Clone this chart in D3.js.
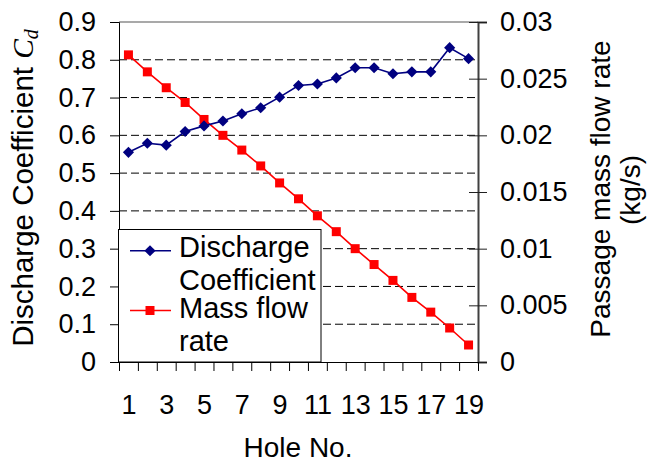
<!DOCTYPE html>
<html>
<head>
<meta charset="utf-8">
<script src="https://cdn.jsdelivr.net/npm/d3@7"></script>
<style>
  html, body { margin: 0; padding: 0; background: #fff; }
  svg { display: block; }
  text { font-family: "Liberation Sans", Arial, sans-serif; fill: #000; }
</style>
</head>
<body>
<svg id="chart" width="652" height="463"></svg>
<script>
// Hole numbers along the passage
const holes = [1,2,3,4,5,6,7,8,9,10,11,12,13,14,15,16,17,18,19];
// Discharge coefficient Cd per hole (left axis)
const dischargeCoef = [0.555,0.579,0.574,0.610,0.625,0.638,0.657,0.673,0.701,0.732,
                       0.736,0.752,0.779,0.779,0.763,0.768,0.768,0.832,0.803];
// Passage mass flow rate in kg/s per hole (right axis)
const massFlow = [0.0271,0.0256,0.0242,0.0229,0.0214,0.0200,0.0187,0.0173,0.0158,0.0144,
                  0.0129,0.0115,0.0100,0.0086,0.0072,0.0057,0.0044,0.0030,0.0015];
// Tick values
const leftTicks = [0,0.1,0.2,0.3,0.4,0.5,0.6,0.7,0.8,0.9];
const leftTickLabels = ["0","0.1","0.2","0.3","0.4","0.5","0.6","0.7","0.8","0.9"];
const rightTicks = [0,0.005,0.01,0.015,0.02,0.025,0.03];
const rightTickLabels = ["0","0.005","0.01","0.015","0.02","0.025","0.03"];
const xLabelHoles = [1,3,5,7,9,11,13,15,17,19];

const svg = d3.select("#chart");
const plot = { left: 119, right: 478, top: 22, bottom: 362 };
const FS = 27;

const x = d3.scaleLinear().domain([0.5, 19.5]).range([plot.left, plot.right]);
const yL = d3.scaleLinear().domain([0, 0.9]).range([plot.bottom, plot.top]);
const yR = d3.scaleLinear().domain([0, 0.03]).range([plot.bottom, plot.top]);

// Dashed horizontal gridlines
svg.append("g").selectAll("line")
  .data(leftTicks.filter(v => v > 0 && v < 0.9))
  .join("line")
  .attr("x1", plot.left).attr("x2", plot.right)
  .attr("y1", d => yL(d)).attr("y2", d => yL(d))
  .attr("stroke", "#000").attr("stroke-width", 1)
  .attr("stroke-dasharray", "8,4");

// Top border of the plot area
svg.append("line")
  .attr("x1", plot.left).attr("x2", plot.right)
  .attr("y1", yL(0.9)).attr("y2", yL(0.9))
  .attr("stroke", "#8c8c8c").attr("stroke-width", 1.5);

// Left axis
const gL = svg.append("g").attr("transform", `translate(${plot.left},0)`)
  .call(d3.axisLeft(yL).tickValues(leftTicks).tickSize(9).tickPadding(14)
    .tickFormat((d, i) => leftTickLabels[i]));
gL.select(".domain").attr("stroke", "#000");
gL.selectAll(".tick line").attr("stroke", "#000");
gL.selectAll(".tick text").attr("font-size", FS).attr("font-family", null);

// Right axis (ticks cross the axis line)
const gR = svg.append("g").attr("transform", `translate(${plot.right},0)`)
  .call(d3.axisRight(yR).tickValues(rightTicks).tickSize(9).tickPadding(13)
    .tickFormat((d, i) => rightTickLabels[i]));
gR.select(".domain").attr("stroke", "#404040").attr("stroke-width", 2);
gR.selectAll(".tick line").attr("x1", -9).attr("stroke", "#202020");
gR.selectAll(".tick text").attr("font-size", FS).attr("font-family", null);

// Bottom axis: ticks between categories
const gB = svg.append("g").attr("transform", `translate(0,${plot.bottom})`)
  .call(d3.axisBottom(x).tickValues(d3.range(0.5, 20, 1)).tickSize(9).tickFormat(""));
gB.select(".domain").attr("stroke", "#000");
gB.selectAll(".tick line").attr("stroke", "#000");

// Category labels on odd holes
const gBL = svg.append("g").attr("transform", `translate(0,${plot.bottom})`)
  .call(d3.axisBottom(x).tickValues(xLabelHoles).tickSize(0).tickPadding(33)
    .tickFormat(d3.format("d")));
gBL.select(".domain").remove();
gBL.selectAll(".tick text").attr("font-size", FS).attr("font-family", null);

// Mass flow rate series
const red = "#ff0000", navy = "#000080";
svg.append("path")
  .datum(holes.map((h, i) => [h, massFlow[i]]))
  .attr("fill", "none").attr("stroke", red).attr("stroke-width", 1.6)
  .attr("d", d3.line().x(d => x(d[0])).y(d => yR(d[1])));
svg.append("g").selectAll("path")
  .data(holes.map((h, i) => [h, massFlow[i]]))
  .join("path")
  .attr("transform", d => `translate(${x(d[0])},${yR(d[1])})`)
  .attr("d", d3.symbol(d3.symbolSquare, 81))
  .attr("fill", red);

// Discharge coefficient series
svg.append("path")
  .datum(holes.map((h, i) => [h, dischargeCoef[i]]))
  .attr("fill", "none").attr("stroke", navy).attr("stroke-width", 1.6)
  .attr("d", d3.line().x(d => x(d[0])).y(d => yL(d[1])));
svg.append("g").selectAll("path")
  .data(holes.map((h, i) => [h, dischargeCoef[i]]))
  .join("path")
  .attr("transform", d => `translate(${x(d[0])},${yL(d[1])}) rotate(45)`)
  .attr("d", d3.symbol(d3.symbolSquare, 62))
  .attr("fill", navy);

// Legend
const lg = svg.append("g");
lg.append("rect")
  .attr("x", 118.5).attr("y", 229.5).attr("width", 202.5).attr("height", 132.5)
  .attr("fill", "#fff").attr("stroke", "#000").attr("stroke-width", 1);
const legendItems = [
  { lines: ["Discharge", "Coefficient"], color: navy, y: 250.7, base: [257, 290], diamond: true },
  { lines: ["Mass flow", "rate"], color: red, y: 310.5, base: [318, 351], diamond: false }
];
legendItems.forEach(it => {
  lg.append("line").attr("x1", 130).attr("x2", 171).attr("y1", it.y).attr("y2", it.y)
    .attr("stroke", it.color).attr("stroke-width", 1.6);
  lg.append("path")
    .attr("transform", `translate(150,${it.y})` + (it.diamond ? " rotate(45)" : ""))
    .attr("d", d3.symbol(d3.symbolSquare, it.diamond ? 62 : 81))
    .attr("fill", it.color);
  it.lines.forEach((t, j) => {
    lg.append("text").attr("x", 179).attr("y", it.base[j]).attr("font-size", 29).text(t);
  });
});

// Axis titles
const tl = svg.append("text")
  .attr("transform", "translate(33,188) rotate(-90)")
  .attr("text-anchor", "middle").attr("font-size", 29.5);
tl.append("tspan").text("Discharge Coefficient ");
tl.append("tspan").attr("font-family", "'Liberation Serif', 'Times New Roman', serif")
  .attr("font-style", "italic").text("C");
tl.append("tspan").attr("font-family", "'Liberation Serif', 'Times New Roman', serif")
  .attr("font-style", "italic").attr("font-size", 20).attr("dy", 5).text("d");

svg.append("text")
  .attr("transform", "translate(610,189) rotate(-90)")
  .attr("text-anchor", "middle").attr("font-size", 28)
  .text("Passage mass flow rate");
svg.append("text")
  .attr("transform", "translate(640,190) rotate(-90)")
  .attr("text-anchor", "middle").attr("font-size", 28)
  .text("(kg/s)");

svg.append("text")
  .attr("x", 298).attr("y", 457)
  .attr("text-anchor", "middle").attr("font-size", 28)
  .text("Hole No.");
</script>
</body>
</html>
